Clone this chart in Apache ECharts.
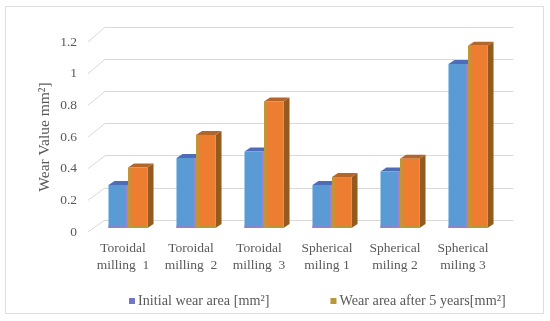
<!DOCTYPE html>
<html><head><meta charset="utf-8">
<script src="https://cdn.jsdelivr.net/npm/echarts@6/dist/echarts.min.js"></script>
<style>html,body{margin:0;padding:0;background:#fff}#c{width:550px;height:321px}</style>
</head><body><div id="c"></div>
<script>
var categories = ['Toroidal\nmilling  1','Toroidal\nmilling  2','Toroidal\nmilling  3','Spherical\nmiling 1','Spherical\nmiling 2','Spherical\nmiling 3'];
var initialWear = [0.27, 0.44, 0.48, 0.27, 0.355, 1.03];
var wearAfter5 = [0.38, 0.585, 0.795, 0.32, 0.435, 1.145];
var yTicks = [0, 0.2, 0.4, 0.6, 0.8, 1, 1.2];
var seriesNames = ['Initial wear area [mm²]', 'Wear area after 5 years[mm²]'];

var FONT = "'Liberation Serif','Times New Roman',serif";
var TXT = '#595959';
var GRIDC = '#d9d9d9';
var styles = [
  {front:'#5b9bd5', top:'#4f6cb6', side:'#4a66a8', edge:'#9a86d6', bottom:'#8a84cf'},
  {front:'#ed7d31', top:'#b4662a', side:'#955a1e', edge:'#bb9a38', bottom:'#b89a35'}
];

function barRender(s){
  return function(params, api){
    var idx = api.value(0), val = api.value(1);
    var top = api.coord([idx, val]);
    var base = api.coord([idx, 0]);
    var band = api.size([1, 0])[0];
    var bw = band * 0.287;
    var x0 = s === 0 ? top[0] - bw : top[0];
    var x1 = x0 + bw, yt = top[1], yb = base[1];
    var dx = 6, dy = -4;
    var st = styles[s];
    var ch = [
      {type:'polygon', shape:{points:[[x1,yt],[x1+dx,yt+dy],[x1+dx,yb+dy],[x1,yb]]}, style:{fill:st.side}},
      {type:'polygon', shape:{points:[[x0,yt],[x1,yt],[x1+dx,yt+dy],[x0+dx,yt+dy]]}, style:{fill:st.top}},
      {type:'rect', shape:{x:x0, y:yt, width:bw, height:yb-yt}, style:{fill:st.front}},
      {type:'rect', shape:{x:x0, y:yb-2.5, width:bw, height:2.5}, style:{fill:st.bottom}}
    ];
    if (s === 0) ch.push({type:'rect', shape:{x:x1-2, y:yt, width:2, height:yb-yt}, style:{fill:st.edge}});
    else ch.push({type:'rect', shape:{x:x0, y:yt, width:3, height:yb-yt}, style:{fill:st.edge, opacity:0.8}});
    return {type:'group', children:ch};
  };
}

var chart = echarts.init(document.getElementById('c'), null, {renderer:'canvas'});
chart.setOption({
  animation:false,
  backgroundColor:'#fff',
  graphic:[{type:'rect', shape:{x:5.5, y:6.5, width:538, height:307}, style:{fill:'none', stroke:'#dedede', lineWidth:1}, z:-10}],
  grid:[
    {left:94, right:48, top:37, bottom:93},
    {left:105, right:37, top:27, bottom:101},
    {left:88, right:60, top:42, bottom:89}
  ],
  xAxis:[
    {gridIndex:0, type:'category', data:categories, axisLine:{show:false}, axisTick:{show:false},
     axisLabel:{margin:12, interval:0, fontFamily:FONT, fontSize:13.5, lineHeight:17, color:TXT, padding:[0,10,0,0]}},
    {gridIndex:1, type:'value', min:0, max:1, show:false},
    {gridIndex:2, type:'value', min:0, max:1, show:false}
  ],
  yAxis:[
    {gridIndex:0, type:'value', min:0, max:1.2, interval:0.2, show:false},
    {gridIndex:1, type:'value', min:0, max:1.2, interval:0.2, axisLine:{show:false}, axisTick:{show:false}, axisLabel:{show:false},
     splitLine:{show:true, lineStyle:{color:GRIDC, width:1}}},
    {gridIndex:2, type:'value', min:0, max:1.2, interval:0.2, axisLine:{show:false}, axisTick:{show:false}, splitLine:{show:false},
     axisLabel:{margin:11, fontFamily:FONT, fontSize:13.5, color:TXT, formatter:function(v){return String(v);}},
     name:'Wear Value mm²]', nameLocation:'middle', nameGap:35, nameRotate:90, nameMoveOverlap:false,
     nameTextStyle:{fontFamily:FONT, fontSize:15.5, color:TXT}}
  ],
  legend:{
    left:124, top:289, itemWidth:6, itemHeight:6, itemGap:61,
    textStyle:{fontFamily:FONT, fontSize:14.2, color:TXT, padding:[0,0,0,-2]},
    data:[
      {name:seriesNames[0], icon:'rect', itemStyle:{color:'#7377cc'}},
      {name:seriesNames[1], icon:'rect', itemStyle:{color:'#b8983a'}}
    ]
  },
  series:[
    {type:'custom', name:'diag', xAxisIndex:1, yAxisIndex:1, silent:true, z:1,
     data:yTicks.map(function(v){return [0, v];}),
     renderItem:function(params, api){
       var v = api.value(1);
       var p = api.coord([0, v]);
       return {type:'line', shape:{x1:p[0]-17, y1:p[1]+12+2.5*v, x2:p[0], y2:p[1]}, style:{stroke:GRIDC, lineWidth:1}};
     }},
    {type:'custom', name:seriesNames[0], xAxisIndex:0, yAxisIndex:0, z:3,
     data:initialWear.map(function(v,i){return [i, v];}), renderItem:barRender(0)},
    {type:'custom', name:seriesNames[1], xAxisIndex:0, yAxisIndex:0, z:4,
     data:wearAfter5.map(function(v,i){return [i, v];}), renderItem:barRender(1)}
  ]
});
</script></body></html>
